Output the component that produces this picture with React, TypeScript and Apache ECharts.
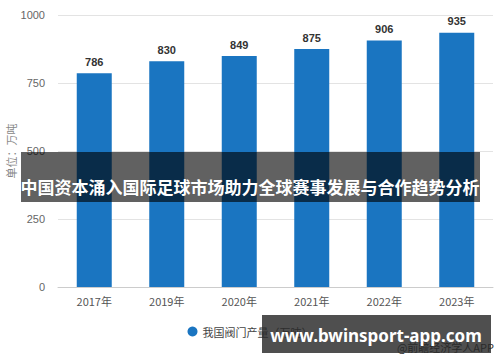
import React, { useEffect, useRef } from "react";
import * as echarts from "echarts";

const categories = ["2017年", "2019年", "2020年", "2021年", "2022年", "2023年"];
const values = [786, 830, 849, 875, 906, 935];
const seriesName = "我国阀门产量（万吨）";
const yAxisName = "单位：万吨";
const title = "中国资本涌入国际足球市场助力全球赛事发展与合作趋势分析";
const siteText = "www.bwinsport-app.com";
const credit = "@前瞻经济学人APP";

export default function App() {
  const ref = useRef<HTMLDivElement>(null);
  useEffect(() => {
    if (!ref.current) return;
    const chart = echarts.init(ref.current, null, { renderer: "svg" });
    chart.setOption({
      animation: false,
      backgroundColor: "#ffffff",
      grid: { left: 58, right: 7, top: 15, bottom: 75, outerBoundsMode: "none", containLabel: false },
      xAxis: {
        type: "category",
        data: categories,
        axisLine: { lineStyle: { color: "#cccccc" } },
        axisTick: { show: false },
        axisLabel: { color: "#555", fontSize: 11, margin: 8, fontFamily: "Noto Sans CJK SC" },
      },
      yAxis: {
        type: "value",
        min: 0,
        max: 1000,
        interval: 250,
        name: yAxisName,
        nameLocation: "middle",
        nameRotate: 90,
        nameGap: 42,
        nameMoveOverlap: false,
        nameTextStyle: { color: "#888", fontSize: 11, fontFamily: "Noto Sans CJK SC" },
        axisLine: { show: false },
        axisTick: { show: false },
        axisLabel: { color: "#666", fontSize: 11, margin: 13, formatter: (v: number) => String(v) },
        splitLine: { lineStyle: { color: "#e3e3e3" } },
      },
      legend: {
        data: [seriesName],
        top: 321,
        left: "center",
        icon: "circle",
        itemWidth: 10,
        itemHeight: 10,
        textStyle: { color: "#444", fontSize: 11, fontFamily: "Noto Sans CJK SC" },
      },
      series: [
        {
          name: seriesName,
          type: "bar",
          data: values,
          barWidth: 35,
          itemStyle: { color: "#1a75c1" },
          label: {
            show: true,
            position: "top",
            color: "#333",
            fontWeight: "bold",
            fontSize: 11,
            distance: 6,
          },
        },
      ],
      graphic: [
        {
          type: "rect",
          shape: { x: 21, y: 152, width: 459, height: 50 },
          style: { fill: "rgba(0,0,0,0.62)" },
          z: 100,
        },
        {
          type: "text",
          x: 250,
          y: 186,
          style: {
            text: title,
            fill: "#ffffff",
            fontSize: 17,
            fontWeight: "bold",
            fontFamily: "Noto Sans CJK SC",
            textAlign: "center",
            textVerticalAlign: "middle",
          },
          z: 101,
        },
        {
          type: "text",
          x: 494,
          y: 347,
          style: {
            text: credit,
            fill: "#333",
            fontSize: 11,
            fontFamily: "Noto Sans CJK SC",
            textAlign: "right",
            textVerticalAlign: "middle",
          },
          z: 100,
        },
        {
          type: "rect",
          shape: { x: 262, y: 315, width: 229, height: 38 },
          style: { fill: "rgba(40,40,40,0.82)" },
          z: 102,
        },
        {
          type: "text",
          x: 376,
          y: 335,
          style: {
            text: siteText,
            fill: "#ffffff",
            fontSize: 17,
            fontWeight: "bold",
            fontFamily: "Noto Sans",
            textAlign: "center",
            textVerticalAlign: "middle",
          },
          z: 103,
        },
      ],
    });
    return () => chart.dispose();
  }, []);
  return <div ref={ref} style={{ width: 500, height: 362, position: "absolute", left: 0, top: 0 }} />;
}
